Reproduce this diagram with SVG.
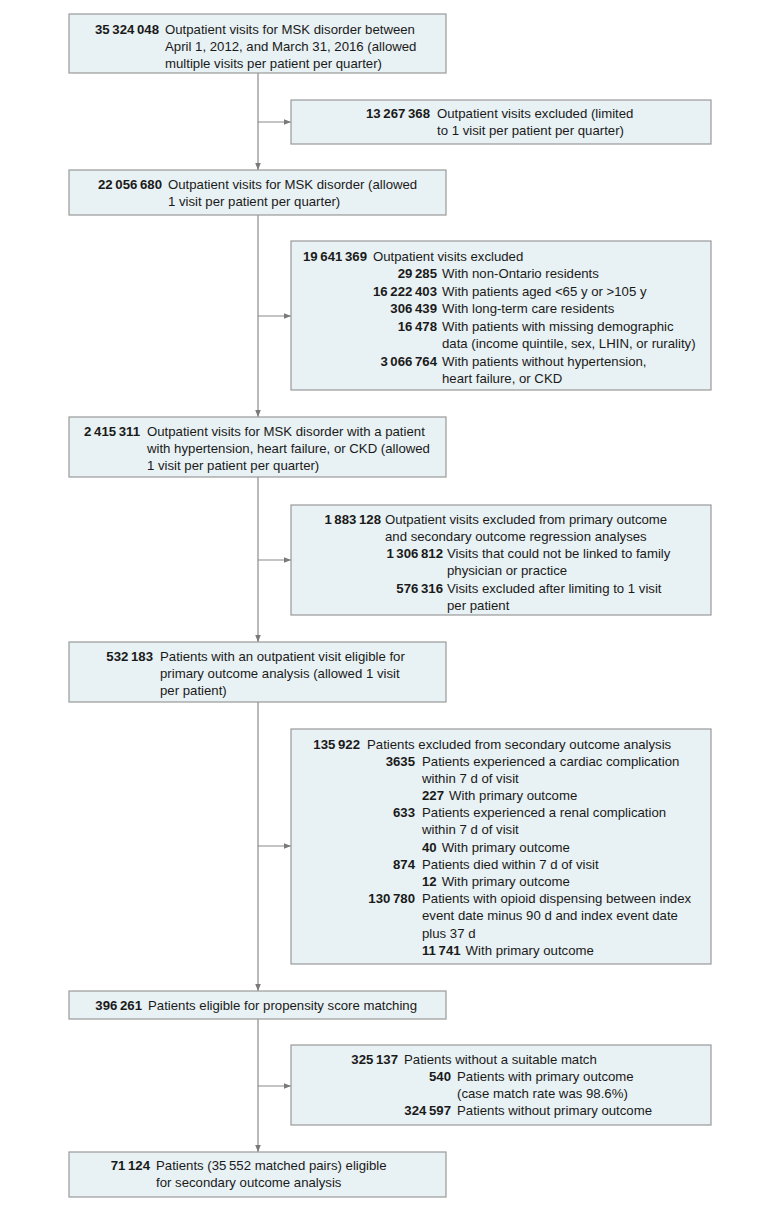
<svg xmlns="http://www.w3.org/2000/svg" width="780" height="1209" viewBox="0 0 780 1209">
<defs>
<marker id="ah" viewBox="0 0 10 10" refX="10" refY="5" markerWidth="7" markerHeight="7" markerUnits="userSpaceOnUse" orient="auto"><path d="M0,1 L10,5 L0,9 Z" fill="#7a7a7a"/></marker>
</defs>
<style>
.box{fill:#e8f1f3;stroke:#9a9a9a;stroke-width:1.2}
.t{font-family:"Liberation Sans",Arial,sans-serif;font-size:13.2px;fill:#1a1a1a}
.n{font-family:"Liberation Sans",Arial,sans-serif;font-size:13.2px;font-weight:bold;fill:#1a1a1a;text-anchor:end}
.nl{font-family:"Liberation Sans",Arial,sans-serif;font-size:13.2px;font-weight:bold;fill:#1a1a1a}
.c{stroke:#8a8a8a;stroke-width:1.2;fill:none}
</style>
<rect width="780" height="1209" fill="#ffffff"/>
<g id="connectors">
<line class="c" x1="258" y1="73" x2="258" y2="170" marker-end="url(#ah)"/>
<line class="c" x1="258" y1="215" x2="258" y2="417" marker-end="url(#ah)"/>
<line class="c" x1="258" y1="477" x2="258" y2="642" marker-end="url(#ah)"/>
<line class="c" x1="258" y1="702" x2="258" y2="991" marker-end="url(#ah)"/>
<line class="c" x1="258" y1="1019" x2="258" y2="1152" marker-end="url(#ah)"/>
<line class="c" x1="258" y1="122" x2="291" y2="122" marker-end="url(#ah)"/>
<line class="c" x1="258" y1="316" x2="291" y2="316" marker-end="url(#ah)"/>
<line class="c" x1="258" y1="560" x2="291" y2="560" marker-end="url(#ah)"/>
<line class="c" x1="258" y1="846" x2="291" y2="846" marker-end="url(#ah)"/>
<line class="c" x1="258" y1="1086" x2="291" y2="1086" marker-end="url(#ah)"/>
</g>
<g id="n1">
<rect class="box" x="69" y="14" width="377" height="59"/>
<text class="n" x="159" y="34">35&#8201;324&#8201;048</text>
<text class="t" x="165" y="34">Outpatient visits for MSK disorder between</text>
<text class="t" x="165" y="51">April 1, 2012, and March 31, 2016 (allowed</text>
<text class="t" x="165" y="68">multiple visits per patient per quarter)</text>
</g>
<g id="n2">
<rect class="box" x="291" y="100" width="420" height="44"/>
<text class="n" x="430" y="118">13&#8201;267&#8201;368</text>
<text class="t" x="437" y="118">Outpatient visits excluded (limited</text>
<text class="t" x="437" y="135">to 1 visit per patient per quarter)</text>
</g>
<g id="n3">
<rect class="box" x="69" y="170" width="377" height="45"/>
<text class="n" x="162" y="188.5">22&#8201;056&#8201;680</text>
<text class="t" x="168" y="188.5">Outpatient visits for MSK disorder (allowed</text>
<text class="t" x="168" y="205.5">1 visit per patient per quarter)</text>
</g>
<g id="n4">
<rect class="box" x="291" y="241" width="420" height="149"/>
<text class="n" x="367" y="260.5">19&#8201;641&#8201;369</text>
<text class="t" x="373" y="260.5">Outpatient visits excluded</text>
<text class="n" x="437" y="278">29&#8201;285</text>
<text class="t" x="442" y="278">With non-Ontario residents</text>
<text class="n" x="437" y="295.5">16&#8201;222&#8201;403</text>
<text class="t" x="442" y="295.5">With patients aged &lt;65 y or &gt;105 y</text>
<text class="n" x="437" y="313">306&#8201;439</text>
<text class="t" x="442" y="313">With long-term care residents</text>
<text class="n" x="437" y="330.5">16&#8201;478</text>
<text class="t" x="442" y="330.5">With patients with missing demographic</text>
<text class="t" x="442" y="348">data (income quintile, sex, LHIN, or rurality)</text>
<text class="n" x="437" y="365.5">3&#8201;066&#8201;764</text>
<text class="t" x="442" y="365.5">With patients without hypertension,</text>
<text class="t" x="442" y="383">heart failure, or CKD</text>
</g>
<g id="n5">
<rect class="box" x="69" y="417" width="377" height="60"/>
<text class="n" x="140" y="435.5">2&#8201;415&#8201;311</text>
<text class="t" x="147" y="435.5">Outpatient visits for MSK disorder with a patient</text>
<text class="t" x="147" y="452.5">with hypertension, heart failure, or CKD (allowed</text>
<text class="t" x="147" y="469.5">1 visit per patient per quarter)</text>
</g>
<g id="n6">
<rect class="box" x="291" y="505" width="420" height="110"/>
<text class="n" x="381" y="523.5">1&#8201;883&#8201;128</text>
<text class="t" x="385" y="523.5">Outpatient visits excluded from primary outcome</text>
<text class="t" x="385" y="540.5">and secondary outcome regression analyses</text>
<text class="n" x="443" y="557.5">1&#8201;306&#8201;812</text>
<text class="t" x="447" y="557.5">Visits that could not be linked to family</text>
<text class="t" x="447" y="575">physician or practice</text>
<text class="n" x="443" y="592.5">576&#8201;316</text>
<text class="t" x="447" y="592.5">Visits excluded after limiting to 1 visit</text>
<text class="t" x="447" y="609.5">per patient</text>
</g>
<g id="n7">
<rect class="box" x="69" y="642" width="377" height="60"/>
<text class="n" x="153" y="660.5">532&#8201;183</text>
<text class="t" x="160" y="660.5">Patients with an outpatient visit eligible for</text>
<text class="t" x="160" y="677.5">primary outcome analysis (allowed 1 visit</text>
<text class="t" x="160" y="694.5">per patient)</text>
</g>
<g id="n8">
<rect class="box" x="291" y="729" width="420" height="235"/>
<text class="n" x="360" y="748.5">135&#8201;922</text>
<text class="t" x="367" y="748.5">Patients excluded from secondary outcome analysis</text>
<text class="n" x="415" y="765.7">3635</text>
<text class="t" x="422" y="765.7">Patients experienced a cardiac complication</text>
<text class="t" x="422" y="782.9">within 7 d of visit</text>
<text class="nl" x="422" y="800">227<tspan class="t" font-weight="normal" dx="5">With primary outcome</tspan></text>
<text class="n" x="415" y="817.2">633</text>
<text class="t" x="422" y="817.2">Patients experienced a renal complication</text>
<text class="t" x="422" y="834.4">within 7 d of visit</text>
<text class="nl" x="422" y="851.6">40<tspan class="t" font-weight="normal" dx="5">With primary outcome</tspan></text>
<text class="n" x="415" y="868.8">874</text>
<text class="t" x="422" y="868.8">Patients died within 7 d of visit</text>
<text class="nl" x="422" y="886">12<tspan class="t" font-weight="normal" dx="5">With primary outcome</tspan></text>
<text class="n" x="415" y="903.2">130&#8201;780</text>
<text class="t" x="422" y="903.2">Patients with opioid dispensing between index</text>
<text class="t" x="422" y="920.4">event date minus 90 d and index event date</text>
<text class="t" x="422" y="937.6">plus 37 d</text>
<text class="nl" x="422" y="954.8">11&#8201;741<tspan class="t" font-weight="normal" dx="5">With primary outcome</tspan></text>
</g>
<g id="n9">
<rect class="box" x="69" y="991" width="377" height="28"/>
<text class="n" x="142" y="1009.5">396&#8201;261</text>
<text class="t" x="148" y="1009.5">Patients eligible for propensity score matching</text>
</g>
<g id="n10">
<rect class="box" x="291" y="1045" width="420" height="80"/>
<text class="n" x="398" y="1063.5">325&#8201;137</text>
<text class="t" x="404" y="1063.5">Patients without a suitable match</text>
<text class="n" x="451" y="1080.5">540</text>
<text class="t" x="457" y="1080.5">Patients with primary outcome</text>
<text class="t" x="457" y="1097.5">(case match rate was 98.6%)</text>
<text class="n" x="451" y="1114.5">324&#8201;597</text>
<text class="t" x="457" y="1114.5">Patients without primary outcome</text>
</g>
<g id="n11">
<rect class="box" x="69" y="1152" width="377" height="45"/>
<text class="n" x="150" y="1169.5">71&#8201;124</text>
<text class="t" x="156" y="1169.5">Patients (35&#8201;552 matched pairs) eligible</text>
<text class="t" x="156" y="1186.5">for secondary outcome analysis</text>
</g>
</svg>
